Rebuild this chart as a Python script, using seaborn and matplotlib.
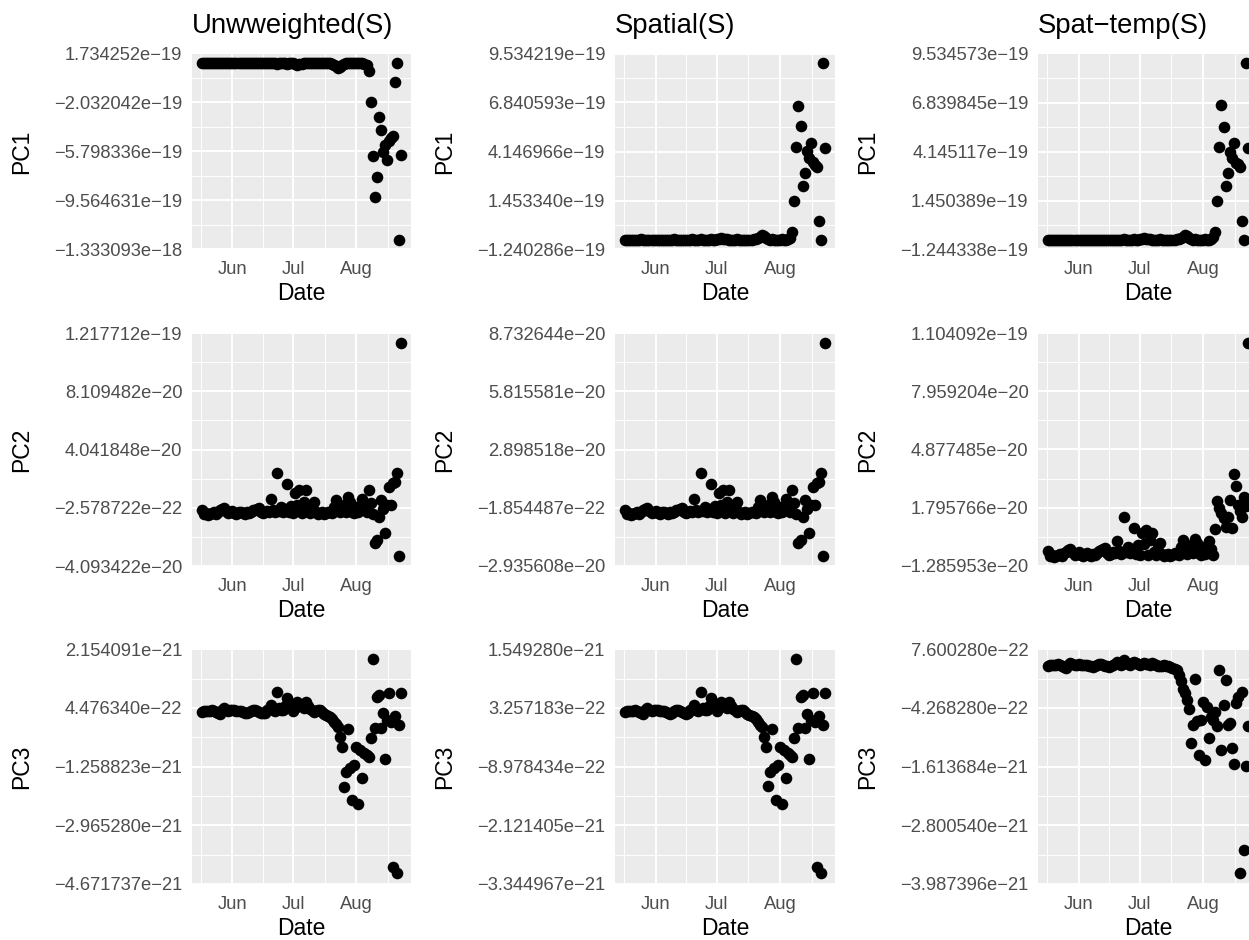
import matplotlib
matplotlib.use('Agg')
import matplotlib.pyplot as plt
import matplotlib.dates as mdates
import seaborn as sns
import pandas as pd
import numpy as np

# daily observations, 17 May - 23 Aug
dates = pd.date_range('2020-05-17', '2020-08-23', freq='D')

# PC scores (PC1 in 1e-19, PC2 in 1e-20, PC3 in 1e-21)
pc1_unw = [0.99, 1.00, 0.98, 1.00, 0.99, 0.98, 1.00, 0.99, 0.97, 0.99,
           1.00, 0.98, 0.99, 1.00, 0.98, 0.99, 1.00, 0.99, 0.98, 1.00,
           0.99, 0.98, 1.00, 0.99, 0.97, 0.99, 1.00, 0.98, 0.99, 1.00,
           0.98, 0.99, 1.00, 0.97, 0.99, 0.98, 1.00, 0.96, 0.99, 0.98,
           1.00, 0.99, 0.95, 0.98, 0.99, 0.97, 0.93, 0.88, 0.90, 0.94,
           0.97, 0.99, 0.98, 1.00, 0.99, 0.97, 0.99, 1.00, 0.98, 0.99,
           1.00, 0.98, 0.99, 0.97, 0.95, 0.88, 0.74, 0.65, 0.72, 0.86,
           0.95, 0.99, 0.97, 1.00, 0.98, 0.99, 1.00, 0.97, 0.99, 0.98,
           0.94, 0.82, 0.41, -1.97, -6.15, -9.32, -7.74, -3.12, -4.15, -5.81,
           -5.30, -6.45, -4.97, -4.79, -4.60, -0.44, 1.03, -12.60, -6.07]
pc1_spa = [-0.71, -0.72, -0.70, -0.72, -0.71, -0.70, -0.72, -0.71, -0.69, -0.71,
           -0.72, -0.70, -0.71, -0.72, -0.70, -0.71, -0.72, -0.71, -0.70, -0.72,
           -0.71, -0.70, -0.72, -0.71, -0.69, -0.71, -0.72, -0.70, -0.71, -0.72,
           -0.70, -0.71, -0.72, -0.69, -0.71, -0.70, -0.72, -0.69, -0.71, -0.70,
           -0.72, -0.71, -0.68, -0.70, -0.71, -0.69, -0.66, -0.63, -0.64, -0.67,
           -0.69, -0.71, -0.70, -0.72, -0.71, -0.69, -0.71, -0.72, -0.70, -0.71,
           -0.72, -0.70, -0.71, -0.69, -0.68, -0.63, -0.53, -0.46, -0.51, -0.61,
           -0.68, -0.71, -0.69, -0.72, -0.70, -0.71, -0.72, -0.69, -0.71, -0.70,
           -0.67, -0.59, -0.29, 1.41, 4.40, 6.66, 5.53, 2.23, 2.97, 4.15,
           3.79, 4.61, 3.55, 3.43, 3.29, 0.31, -0.74, 9.01, 4.34]
pc1_st = [-0.71, -0.72, -0.70, -0.72, -0.71, -0.70, -0.72, -0.71, -0.70, -0.71,
          -0.72, -0.70, -0.71, -0.72, -0.70, -0.71, -0.72, -0.71, -0.70, -0.72,
          -0.71, -0.70, -0.72, -0.71, -0.70, -0.71, -0.72, -0.70, -0.71, -0.72,
          -0.70, -0.71, -0.72, -0.70, -0.71, -0.70, -0.72, -0.69, -0.71, -0.70,
          -0.72, -0.71, -0.68, -0.70, -0.71, -0.69, -0.66, -0.62, -0.64, -0.67,
          -0.69, -0.71, -0.70, -0.72, -0.71, -0.69, -0.71, -0.72, -0.70, -0.71,
          -0.72, -0.70, -0.71, -0.69, -0.68, -0.63, -0.54, -0.46, -0.51, -0.61,
          -0.68, -0.71, -0.69, -0.72, -0.70, -0.71, -0.72, -0.69, -0.71, -0.70,
          -0.67, -0.58, -0.28, 1.44, 4.38, 6.68, 5.50, 2.25, 2.99, 4.12,
          3.80, 4.63, 3.52, 3.45, 3.30, 0.33, -0.74, 9.02, 4.36]

pc2_unw = [-0.15, -0.45, -0.40, -0.50, -0.45, -0.40, -0.35, -0.45, -0.30, -0.20,
           -0.10, -0.05, -0.25, -0.40, -0.35, -0.25, -0.40, -0.45, -0.35, -0.30,
           -0.40, -0.45, -0.35, -0.40, -0.30, -0.20, -0.15, -0.10, -0.05, -0.30,
           -0.40, -0.35, -0.25, -0.30, 0.62, -0.20, -0.35, 2.37, -0.25, 0.05,
           -0.30, -0.10, 1.62, -0.35, 0.10, -0.40, 0.97, 0.20, 1.20, -0.40,
           0.40, 1.20, -0.25, -0.40, 0.10, 0.39, -0.35, -0.45, -0.40, -0.35,
           -0.45, -0.40, -0.30, -0.35, -0.40, 0.05, 0.51, 0.10, -0.35, -0.20,
           0.20, -0.30, 0.74, 0.40, -0.30, -0.40, 0.05, -0.35, 0.00, 0.62,
           0.20, -0.30, 1.20, 0.30, -0.45, -2.51, -2.25, -0.65, 0.51, -0.10,
           -1.82, 0.20, 1.44, 0.16, 1.67, 1.80, 2.37, -3.40, 11.48]
pc2_spa = [-0.11, -0.32, -0.29, -0.36, -0.32, -0.29, -0.25, -0.32, -0.22, -0.14,
           -0.07, -0.04, -0.18, -0.29, -0.25, -0.18, -0.29, -0.32, -0.25, -0.22,
           -0.29, -0.32, -0.25, -0.29, -0.22, -0.14, -0.11, -0.07, -0.04, -0.22,
           -0.29, -0.25, -0.18, -0.22, 0.44, -0.14, -0.25, 1.70, -0.18, 0.04,
           -0.22, -0.07, 1.16, -0.25, 0.07, -0.29, 0.70, 0.14, 0.86, -0.29,
           0.29, 0.86, -0.18, -0.29, 0.07, 0.28, -0.25, -0.32, -0.29, -0.25,
           -0.32, -0.29, -0.22, -0.25, -0.29, 0.04, 0.37, 0.07, -0.25, -0.14,
           0.14, -0.22, 0.53, 0.29, -0.22, -0.29, 0.04, -0.25, 0.00, 0.44,
           0.14, -0.22, 0.86, 0.22, -0.32, -1.80, -1.61, -0.47, 0.37, -0.07,
           -1.30, 0.14, 1.03, 0.11, 1.20, 1.29, 1.70, -2.44, 8.23]
pc2_st = [-0.50, -0.75, -0.70, -0.80, -0.75, -0.70, -0.65, -0.75, -0.60, -0.55,
          -0.45, -0.40, -0.55, -0.70, -0.65, -0.55, -0.70, -0.75, -0.65, -0.60,
          -0.70, -0.75, -0.65, -0.70, -0.60, -0.50, -0.45, -0.40, -0.35, -0.60,
          -0.70, -0.65, -0.55, -0.60, 0.05, -0.50, -0.65, 1.29, -0.55, -0.30,
          -0.60, -0.40, 0.70, -0.65, -0.20, -0.70, 0.44, -0.10, 0.60, -0.70,
          0.10, 0.44, -0.55, -0.70, -0.20, -0.09, -0.65, -0.75, -0.70, -0.65,
          -0.75, -0.70, -0.60, -0.65, -0.70, -0.30, 0.09, -0.20, -0.65, -0.50,
          -0.20, -0.60, 0.12, -0.05, -0.60, -0.70, -0.30, -0.65, -0.35, 0.05,
          -0.40, -0.70, 0.65, 2.17, 1.76, 1.50, 1.23, 0.79, 1.30, 2.20,
          0.70, 3.56, 2.94, 1.94, 1.60, 1.32, 2.38, 1.90, 10.51]

pc3_unw = [0.34, 0.36, 0.37, 0.35, 0.36, 0.38, 0.35, 0.33, 0.30, 0.26,
           0.38, 0.44, 0.40, 0.37, 0.38, 0.40, 0.38, 0.36, 0.37, 0.35,
           0.33, 0.31, 0.29, 0.32, 0.35, 0.38, 0.39, 0.37, 0.33, 0.30,
           0.29, 0.31, 0.38, 0.42, 0.53, 0.40, 0.35, 0.90, 0.45, 0.40,
           0.38, 0.50, 0.75, 0.55, 0.49, 0.36, 0.45, 0.63, 0.55, 0.50,
           0.45, 0.63, 0.50, 0.42, 0.38, 0.34, 0.36, 0.40, 0.39, 0.33,
           0.28, 0.25, 0.22, 0.18, 0.12, 0.05, -0.03, -0.12, -0.39, -0.68,
           -1.84, -1.40, -0.16, -1.30, -2.23, -1.21, -0.68, -2.35, -0.78, -1.60,
           -0.87, -0.92, -0.97, -0.42, 1.87, -0.14, 0.78, 0.83, -0.14, 0.29,
           -1.04, 0.10, 0.87, 0.03, -4.17, 0.20, -4.36, -0.05, 0.87]
pc3_spa = [0.25, 0.26, 0.27, 0.26, 0.26, 0.28, 0.26, 0.24, 0.22, 0.19,
           0.28, 0.32, 0.29, 0.27, 0.28, 0.29, 0.28, 0.26, 0.27, 0.26,
           0.24, 0.23, 0.21, 0.23, 0.26, 0.28, 0.28, 0.27, 0.24, 0.22,
           0.21, 0.23, 0.28, 0.31, 0.39, 0.29, 0.26, 0.65, 0.33, 0.29,
           0.28, 0.36, 0.54, 0.40, 0.36, 0.26, 0.33, 0.46, 0.40, 0.36,
           0.33, 0.46, 0.36, 0.31, 0.28, 0.25, 0.26, 0.29, 0.28, 0.24,
           0.21, 0.18, 0.16, 0.13, 0.09, 0.04, -0.02, -0.08, -0.28, -0.48,
           -1.31, -1.00, -0.11, -0.93, -1.59, -0.86, -0.48, -1.68, -0.55, -1.14,
           -0.62, -0.66, -0.69, -0.30, 1.35, -0.10, 0.56, 0.60, -0.10, 0.21,
           -0.74, 0.08, 0.63, 0.03, -2.99, 0.15, -3.12, -0.03, 0.63]
pc3_st = [0.43, 0.44, 0.45, 0.44, 0.45, 0.46, 0.44, 0.43, 0.41, 0.38,
          0.45, 0.48, 0.46, 0.45, 0.45, 0.46, 0.45, 0.44, 0.45, 0.44,
          0.43, 0.42, 0.41, 0.43, 0.44, 0.46, 0.46, 0.45, 0.43, 0.42,
          0.41, 0.42, 0.45, 0.47, 0.50, 0.46, 0.44, 0.54, 0.48, 0.46,
          0.45, 0.48, 0.51, 0.48, 0.46, 0.44, 0.46, 0.49, 0.47, 0.46,
          0.45, 0.48, 0.46, 0.44, 0.43, 0.42, 0.43, 0.44, 0.43, 0.42,
          0.41, 0.39, 0.37, 0.34, 0.25, 0.11, -0.05, -0.13, -0.26, -0.45,
          -1.14, -0.77, 0.16, -0.70, -1.38, -0.67, -0.30, -1.48, -0.40, -1.03,
          -0.60, -0.67, -0.50, -0.80, 0.34, -1.28, -0.37, 0.14, -0.77, -0.74,
          -1.24, -1.57, -0.33, -0.20, -3.77, -0.11, -3.30, -1.61, -0.80]

M = '\u2212'
titles = ['Unwweighted(S)', 'Spatial(S)', 'Spat' + M + 'temp(S)']
ylabels = ['PC1', 'PC2', 'PC3']
units = [1e-19, 1e-20, 1e-21]

ticks_pc1 = [['1.734252e' + M + '19', M + '2.032042e' + M + '19', M + '5.798336e' + M + '19',
              M + '9.564631e' + M + '19', M + '1.333093e' + M + '18'],
             ['9.534219e' + M + '19', '6.840593e' + M + '19', '4.146966e' + M + '19',
              '1.453340e' + M + '19', M + '1.240286e' + M + '19'],
             ['9.534573e' + M + '19', '6.839845e' + M + '19', '4.145117e' + M + '19',
              '1.450389e' + M + '19', M + '1.244338e' + M + '19']]
ticks_pc2 = [['1.217712e' + M + '19', '8.109482e' + M + '20', '4.041848e' + M + '20',
              M + '2.578722e' + M + '22', M + '4.093422e' + M + '20'],
             ['8.732644e' + M + '20', '5.815581e' + M + '20', '2.898518e' + M + '20',
              M + '1.854487e' + M + '22', M + '2.935608e' + M + '20'],
             ['1.104092e' + M + '19', '7.959204e' + M + '20', '4.877485e' + M + '20',
              '1.795766e' + M + '20', M + '1.285953e' + M + '20']]
ticks_pc3 = [['2.154091e' + M + '21', '4.476340e' + M + '22', M + '1.258823e' + M + '21',
              M + '2.965280e' + M + '21', M + '4.671737e' + M + '21'],
             ['1.549280e' + M + '21', '3.257183e' + M + '22', M + '8.978434e' + M + '22',
              M + '2.121405e' + M + '21', M + '3.344967e' + M + '21'],
             ['7.600280e' + M + '22', M + '4.268280e' + M + '22', M + '1.613684e' + M + '21',
              M + '2.800540e' + M + '21', M + '3.987396e' + M + '21']]

series = [[pc1_unw, pc1_spa, pc1_st],
          [pc2_unw, pc2_spa, pc2_st],
          [pc3_unw, pc3_spa, pc3_st]]
tick_labels = [ticks_pc1, ticks_pc2, ticks_pc3]

sns.set_style('darkgrid', {'axes.facecolor': '#EBEBEB', 'grid.color': 'white',
                           'text.color': 'black', 'axes.labelcolor': 'black'})
plt.rcParams['font.family'] = ['Liberation Sans', 'DejaVu Sans']

W, H = 1249, 940
fig = plt.figure(figsize=(W / 100, H / 100), dpi=100)

# panel boxes in pixels (left, right) and (top, bottom)
col_x = [(192, 411), (615, 835), (1038, 1258)]
row_y = [(53.5, 249.5), (333, 566), (649.3, 884)]

span = dates[-1] - dates[0]
xlim = (dates[0] - 0.05 * span, dates[-1] + 0.05 * span)
month_starts = pd.date_range('2020-05-01', '2020-09-01', freq='MS')
minor_x = [month_starts[i] + (month_starts[i + 1] - month_starts[i]) / 2
           for i in range(len(month_starts) - 1)]

for r in range(3):
    for c in range(3):
        x0, x1 = col_x[c]
        y0, y1 = row_y[r]
        ax = fig.add_axes([x0 / W, 1 - y1 / H, (x1 - x0) / W, (y1 - y0) / H])
        vals = np.array(series[r][c]) * units[r]
        sns.scatterplot(x=dates, y=vals, ax=ax, color='black', s=70,
                        linewidth=0, zorder=3)

        labs = tick_labels[r][c]
        yt = [float(t.replace(M, '-')) for t in labs]
        ax.set_ylim(min(yt), max(yt))
        ax.set_yticks(yt)
        ax.set_yticklabels(labs)
        ys = sorted(yt)
        ax.set_yticks([(ys[i] + ys[i + 1]) / 2 for i in range(4)], minor=True)

        ax.set_xlim(xlim)
        ax.xaxis.set_major_locator(mdates.MonthLocator(bymonth=[6, 7, 8]))
        ax.xaxis.set_major_formatter(mdates.DateFormatter('%b'))
        ax.set_xticks(minor_x, minor=True)

        ax.set_axisbelow(True)
        ax.grid(which='major', color='white', linewidth=1.4)
        ax.grid(which='minor', color='white', linewidth=0.7)
        for s in ax.spines.values():
            s.set_visible(False)
        ax.tick_params(which='major', length=3.4, width=1.0, color='#333333',
                       labelcolor='#4D4D4D', labelsize=13.2, pad=3.5)
        ax.tick_params(axis='x', which='major', pad=5)
        ax.tick_params(which='minor', length=0)

        ax.set_xlabel('Date', fontsize=16.5, labelpad=3, color='black')
        ax.set_ylabel(ylabels[r], fontsize=16.5, labelpad=15, color='black')
        if r == 0:
            ax.set_title(titles[c], loc='left', fontsize=19.8, pad=15,
                         color='black')

fig.savefig('out.png', dpi=100)
